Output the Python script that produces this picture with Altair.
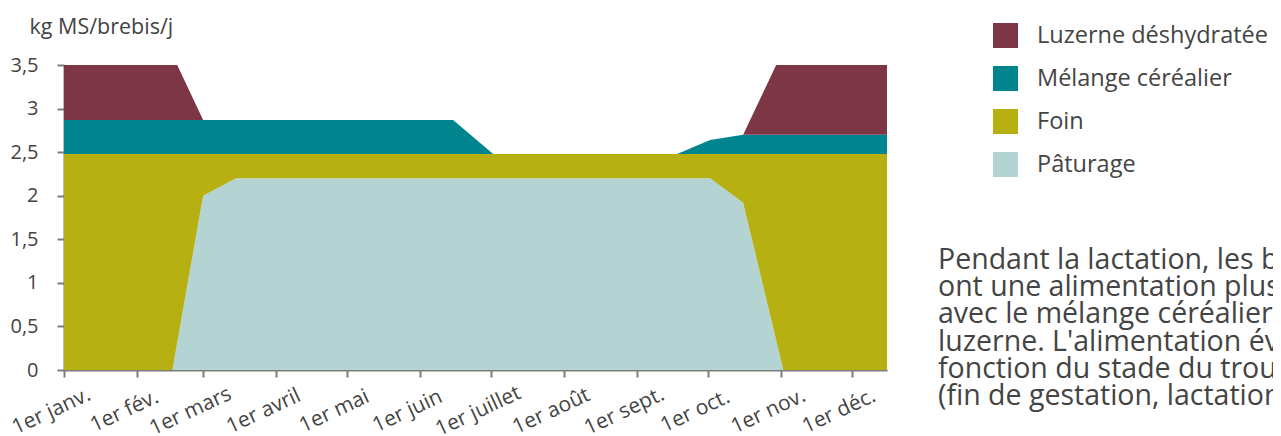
import altair as alt
import pandas as pd

# Day-of-year breakpoints (x) and daily amounts per feed (kg MS/brebis/j)
days = [0, 46, 48, 59, 73, 165, 182, 260, 274, 288, 302, 305, 349]
paturage = [0, 0, 0.31, 2.0, 2.2, 2.2, 2.2, 2.2, 2.2, 1.92, 0.34, 0, 0]
foin = [2.48, 2.48, 2.17, 0.48, 0.28, 0.28, 0.28, 0.28, 0.28, 0.56, 2.14, 2.48, 2.48]
melange = [0.39, 0.39, 0.39, 0.39, 0.39, 0.39, 0, 0, 0.16, 0.22, 0.22, 0.22, 0.22]
luzerne = [0.63, 0.63, 0.63, 0, 0, 0, 0, 0, 0, 0, 0.8, 0.8, 0.8]

series = ["Luzerne déshydratée", "Mélange céréalier", "Foin", "Pâturage"]
colors = ["#7c3646", "#00848e", "#b6b013", "#b4d3d3"]
stack_rank = {"Pâturage": 0, "Foin": 1, "Mélange céréalier": 2, "Luzerne déshydratée": 3}

month_days = [0, 31, 59, 90, 120, 151, 181, 212, 243, 273, 304, 334]
month_labels = ["1er janv.", "1er fév.", "1er mars", "1er avril", "1er mai", "1er juin",
                "1er juillet", "1er août", "1er sept.", "1er oct.", "1er nov.", "1er déc."]
y_ticks = [0, 0.5, 1, 1.5, 2, 2.5, 3, 3.5]

note_lines = [
    "Pendant la lactation, les brebis",
    "ont une alimentation plus riche",
    "avec le mélange céréalier et la",
    "luzerne. L'alimentation évolue en",
    "fonction du stade du troupeau",
    "(fin de gestation, lactation, tarissement).",
]

rows = []
for name, vals in [("Pâturage", paturage), ("Foin", foin),
                   ("Mélange céréalier", melange), ("Luzerne déshydratée", luzerne)]:
    for d, v in zip(days, vals):
        rows.append({"day": d, "value": v, "series": name, "rank": stack_rank[name]})
df = pd.DataFrame(rows)

FONT = "Open Sans"
TXT = "#444444"
AX = "#7b7f7a"

label_expr = ("[" + ",".join("'%s'" % l for l in month_labels) + "][indexof(["
              + ",".join(str(d) for d in month_days) + "], datum.value)]")

area = alt.Chart(df).mark_area(interpolate="linear").encode(
    x=alt.X("day:Q",
            scale=alt.Scale(domain=[0, 349], nice=False, zero=False),
            axis=alt.Axis(values=month_days, labelExpr=label_expr, title=None,
                          labelAngle=335, labelAlign="center", labelBaseline="middle",
                          labelPadding=34, labelOffset=-13, tickSize=7, grid=False,
                          labelFontSize=21, labelFlush=False, labelOverlap=False,
                          labelLimit=0)),
    y=alt.Y("value:Q", stack="zero",
            scale=alt.Scale(domain=[0, 3.5], nice=False),
            axis=alt.Axis(values=y_ticks,
                          labelExpr="replace(toString(datum.value), '.', ',')",
                          title="kg MS/brebis/j", titleAngle=0, titleAlign="left",
                          titleBaseline="alphabetic", titleX=-35, titleY=-32,
                          titleFontSize=21.5, titleFontWeight="normal", titleColor=TXT,
                          tickSize=7, labelPadding=19, grid=False, labelFontSize=20,
                          labelFlush=False, labelOverlap=False)),
    color=alt.Color("series:N",
                    scale=alt.Scale(domain=series, range=colors),
                    legend=alt.Legend(orient="none", legendX=929, legendY=-42,
                                      title=None, symbolType="square", symbolSize=625,
                                      symbolStrokeWidth=0, labelFontSize=23.5,
                                      labelOffset=19, rowPadding=18, labelColor=TXT,
                                      labelFont=FONT, labelLimit=0)),
    order=alt.Order("rank:Q"),
)

note = alt.Chart(alt.Data(values=[{"k": 1}])).mark_text(
    text=note_lines, align="left", baseline="alphabetic", fontSize=28.5,
    lineHeight=27.2, font=FONT, color=TXT,
).encode(x=alt.value(874), y=alt.value(204))

chart = alt.layer(area, note).properties(
    width=823, height=305,
    padding={"left": 56, "top": 57, "right": 386, "bottom": 66},
    autosize=alt.AutoSizeParams(type="none"),
).configure_view(stroke=None).configure_axis(
    labelFont=FONT, titleFont=FONT, labelColor=TXT, domainColor=AX, tickColor=AX,
    domainWidth=2, tickWidth=2,
)

chart.save("out.html", embed_options={"renderer": "svg", "actions": False})
